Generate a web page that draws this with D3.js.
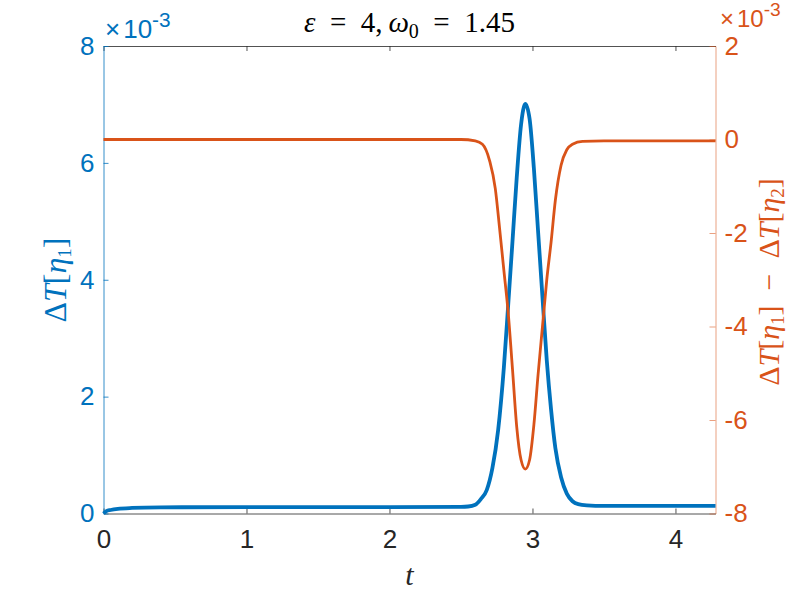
<!DOCTYPE html>
<html>
<head>
<meta charset="utf-8">
<script src="https://cdn.jsdelivr.net/npm/d3@7"></script>
<style>
  body { margin: 0; background: #fff; }
  svg text { font-family: "Liberation Sans", Arial, sans-serif; }
  .tex { font-family: "Liberation Serif", "Times New Roman", serif; }
</style>
</head>
<body>
<div id="chart"></div>
<script>
// time points and values (x 10^-3)
const blueT = [0, 0.02, 0.05, 0.1, 0.2, 0.4, 1.0, 2.0, 2.5, 2.55, 2.6, 2.64, 2.68, 2.72, 2.76, 2.8, 2.83, 2.86, 2.89, 2.92, 2.95,
  2.98, 3.01, 3.04, 3.07, 3.1, 3.13, 3.16, 3.2, 3.24, 3.28, 3.32, 3.38, 3.5, 4.28];
const blueV = [0, 0.04, 0.06, 0.08, 0.095, 0.105, 0.11, 0.11, 0.115, 0.12, 0.15, 0.25, 0.4, 0.78, 1.43, 2.5, 3.56, 4.65, 5.75, 6.65, 7.01,
  6.75, 5.9, 4.8, 3.7, 2.62, 1.78, 1.12, 0.62, 0.34, 0.21, 0.16, 0.14, 0.13, 0.13];

const orangeT = [0, 2.5, 2.6, 2.65, 2.7, 2.74, 2.77, 2.8, 2.83, 2.86, 2.89, 2.92, 2.95,
  2.98, 3.01, 3.04, 3.07, 3.1, 3.13, 3.16, 3.2, 3.24, 3.28, 3.35, 3.5, 4.28];
const orangeV = [0, 0, -0.03, -0.1, -0.45, -1.05, -1.9, -2.8, -3.7, -4.9, -6.15, -6.85, -7.05,
  -6.85, -6.1, -5.0, -4.0, -3.0, -2.2, -1.3, -0.55, -0.22, -0.1, -0.04, -0.03, -0.03];

const xTicks = [0, 1, 2, 3, 4];
const leftTicks = [0, 2, 4, 6, 8];
const rightTicks = [-8, -6, -4, -2, 0, 2];

const width = 793, height = 595,
    margin = ({ top: 46, right: 77.5, bottom: 81.5, left: 103.5 });

const blue = "#0072BD", orange = "#D95319", dark = "#262626";
const tickFont = 26;

const svg = d3.select("#chart")
  .append("svg")
  .attr("width", width)
  .attr("height", height)
  .attr("viewBox", [0, 0, width, height]);

let x = d3.scaleLinear()
  .domain([0, 4.28])
  .range([margin.left, width - margin.right]);

let yL = d3.scaleLinear()
  .domain([0, 8])
  .range([height - margin.bottom, margin.top]);

let yR = d3.scaleLinear()
  .domain([-8, 2])
  .range([height - margin.bottom, margin.top]);

// bottom axis, ticks pointing inward
let gx = svg.append("g")
  .attr("transform", `translate(0,${height - margin.bottom})`)
  .call(d3.axisBottom(x).tickValues(xTicks).tickFormat(d => String(d))
    .tickSize(-5).tickPadding(16).tickSizeOuter(0));
gx.selectAll("text").attr("font-size", tickFont).attr("fill", dark)
  .attr("font-family", "Liberation Sans");
gx.selectAll("line, path").attr("stroke", dark).attr("stroke-width", 0.8);

// top box line
let gt = svg.append("g")
  .attr("transform", `translate(0,${margin.top})`)
  .call(d3.axisTop(x).tickValues(xTicks).tickSize(-5).tickSizeOuter(0).tickFormat(""));
gt.selectAll("line, path").attr("stroke", dark).attr("stroke-width", 0.8);

// left axis
let gl = svg.append("g")
  .attr("transform", `translate(${margin.left},0)`)
  .call(d3.axisLeft(yL).tickValues(leftTicks).tickFormat(d => String(d))
    .tickSize(-5).tickPadding(9).tickSizeOuter(0));
gl.selectAll("text").attr("font-size", tickFont).attr("fill", blue)
  .attr("font-family", "Liberation Sans");
gl.selectAll("line, path").attr("stroke", blue).attr("stroke-width", 0.8);

// right axis
let gr = svg.append("g")
  .attr("transform", `translate(${width - margin.right},0)`)
  .call(d3.axisRight(yR).tickValues(rightTicks).tickFormat(d => String(d))
    .tickSize(-6).tickPadding(9).tickSizeOuter(0));
gr.selectAll("text").attr("font-size", tickFont).attr("fill", orange)
  .attr("font-family", "Liberation Sans");
gr.selectAll("line, path").attr("stroke", orange).attr("stroke-opacity", 0.55).attr("stroke-width", 1);

// exponent labels
function expLabel(px, py, color, size) {
  let t = svg.append("text")
    .attr("x", px).attr("y", py)
    .attr("fill", color)
    .attr("font-size", size);
  t.append("tspan").text("\u00d7");
  t.append("tspan").attr("dx", 3).text("10");
  t.append("tspan").attr("dy", -11).attr("font-size", size * 0.8).text("-3");
}
expLabel(105, 38, blue, tickFont);
expLabel(720, 27, orange, 24);

// curves
let line = d3.line()
  .x(d => x(d[0]))
  .y(d => d[2](d[1]))
  .curve(d3.curveMonotoneX);

svg.append("path")
  .datum(blueT.map((t, i) => [t, blueV[i], yL]))
  .attr("d", line)
  .attr("fill", "none")
  .attr("stroke", blue)
  .attr("stroke-width", 3.8)
  .attr("stroke-linejoin", "round");

svg.append("path")
  .datum(orangeT.map((t, i) => [t, orangeV[i], yR]))
  .attr("d", line)
  .attr("fill", "none")
  .attr("stroke", orange)
  .attr("stroke-width", 2.8)
  .attr("stroke-linejoin", "round");

// title
let title = svg.append("text")
  .attr("class", "tex")
  .attr("x", (x.range()[0] + x.range()[1]) / 2)
  .attr("y", 32)
  .attr("text-anchor", "middle")
  .attr("font-size", 29)
  .attr("fill", "#000");
title.append("tspan").attr("font-style", "italic").text("\u03b5");
title.append("tspan").text("\u2002=\u20024,\u2009");
title.append("tspan").attr("font-style", "italic").text("\u03c9");
title.append("tspan").attr("font-size", 20).attr("dy", 6).text("0");
title.append("tspan").attr("dy", -6).text("\u2002=\u20021.45");

// x label
svg.append("text")
  .attr("class", "tex")
  .attr("x", x(2.14))
  .attr("y", 585)
  .attr("text-anchor", "middle")
  .attr("font-size", 30)
  .attr("font-style", "italic")
  .attr("fill", dark)
  .text("t");

// y labels
function deltaT(sel, sub) {
  sel.append("tspan").text("\u0394");
  sel.append("tspan").attr("font-style", "italic").text("T");
  sel.append("tspan").text("[");
  sel.append("tspan").attr("font-style", "italic").text("\u03b7");
  sel.append("tspan").attr("font-size", 19).attr("dy", 5).text(sub);
  sel.append("tspan").attr("dy", -5).text("]");
}

let yl = svg.append("text")
  .attr("class", "tex")
  .attr("transform", "translate(66,280) rotate(-90)")
  .attr("text-anchor", "middle")
  .attr("font-size", 32)
  .attr("fill", blue);
deltaT(yl, "1");

let yr = svg.append("text")
  .attr("class", "tex")
  .attr("transform", "translate(779,282) rotate(-90)")
  .attr("text-anchor", "middle")
  .attr("font-size", 30)
  .attr("fill", orange);
deltaT(yr, "1");
yr.append("tspan").text("\u2002\u2212\u2002");
deltaT(yr, "2");
</script>
</body>
</html>
